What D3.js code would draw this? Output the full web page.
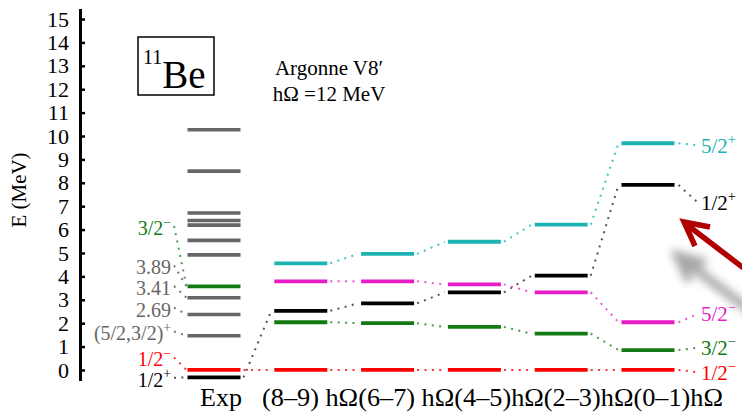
<!DOCTYPE html>
<html><head><meta charset="utf-8">
<script src="https://cdn.jsdelivr.net/npm/d3@7"></script>
<style>
body{margin:0;background:#fff;}
svg{display:block;}
svg text{font-family:"Liberation Serif","Tinos","Times New Roman",serif;}
</style></head><body>
<svg id="chart" width="742" height="418"></svg>
<script>
// Columns: experiment and the NCSM model spaces
const columns = ["Exp", "(8–9) hΩ", "(6–7) hΩ", "(4–5)hΩ", "(2–3)hΩ", "(0–1)hΩ"];
const yTicks = [0,1,2,3,4,5,6,7,8,9,10,11,12,13,14,15];

// Experimental levels of 11Be (MeV, relative to the 1/2− state)
const expGray = [10.27, 8.5, 6.71, 6.39, 6.19, 5.54, 4.92, 3.09, 2.37, 1.46];
const expGreen = 3.57;
const expRed = 0;
const expBlack = -0.32;

// Calculated levels, one value per model space (8–9 … 0–1)
const state52p = [4.56, 4.96, 5.48, 6.21, 9.69];
const state52m = [3.79, 3.79, 3.66, 3.32, 2.04];
const state12p = [2.53, 2.85, 3.32, 4.03, 7.91];
const state32m = [2.04, 2.00, 1.84, 1.55, 0.85];
const state12m = [0, 0, 0, 0, 0];

// Labels on the experimental column
const expLabelText  = ["3/2", "3.89", "3.41", "2.69", "(5/2,3/2)", "1/2", "1/2"];
const expLabelSup   = ["−", "", "", "", "+", "−", "+"];
const expLabelAt    = [6.07, 4.38, 3.50, 2.58, 1.56, 0.45, -0.42];
const expLabelLevel = [3.57, 3.57, 3.09, 2.37, 1.46, 0, -0.32];

// Labels at the right end of each calculated state
const rightText = ["5/2", "1/2", "5/2", "3/2", "1/2"];
const rightSup  = ["+", "+", "−", "−", "−"];
const rightAt   = [9.60, 7.15, 2.40, 0.95, -0.10];

const C = {cyan:"#1db3b3", magenta:"#e81cc6", black:"#000000", green:"#127a12", red:"#ff0000", gray:"#666666"};
const series = [
  {values: state52p, color: C.cyan,    dot: "#44c4c4"},
  {values: state12p, color: C.black,   dot: "#555555"},
  {values: state52m, color: C.magenta, dot: "#ee55d6"},
  {values: state32m, color: C.green,   dot: "#4a9a4a"},
  {values: state12m, color: C.red,     dot: "#ff3333"}
];
const expLabelColor = [C.green, C.gray, C.gray, C.gray, C.gray, C.red, C.black];
const expLabelDot   = ["#4a9a4a", "#777", "#777", "#777", "#777", "#ff3333", "#555"];

const svg = d3.select("#chart");
const y = d3.scaleLinear().domain([-0.45, 15.45]).range([380.5, 8.5]);
const x = d3.scalePoint().domain(columns).range([214, 648]);
const hw = 26.5;

function dotted(g, x1, y1, x2, y2, color) {
  g.append("line").attr("x1", x1).attr("y1", y1).attr("x2", x2).attr("y2", y2)
    .attr("stroke", color).attr("stroke-width", 2)
    .attr("stroke-dasharray", "2,5.4");
}
function supText(g, xp, yp, txt, sup, color, size, anchor) {
  const t = g.append("text").attr("x", xp).attr("y", yp).attr("dy", "0.35em")
    .attr("fill", color).attr("font-size", size).attr("text-anchor", anchor || "start");
  t.append("tspan").text(txt);
  if (sup) t.append("tspan").attr("dy", -size * 0.42).attr("font-size", size * 0.68).text(sup);
  return t;
}

// Y axis
const axis = svg.append("g").attr("transform", "translate(80,0)")
  .call(d3.axisLeft(y).tickValues(yTicks).tickSizeInner(-5).tickSizeOuter(0).tickPadding(11).tickFormat(d3.format("d")));
axis.attr("font-family", null);
axis.select(".domain").attr("stroke", "#000").attr("stroke-width", 3);
axis.selectAll(".tick line").attr("stroke", "#000").attr("stroke-width", 2.5);
axis.selectAll(".tick text").attr("font-size", 22).attr("fill", "#000");

svg.append("text").attr("transform", "translate(26,190) rotate(-90)")
  .attr("text-anchor", "middle").attr("font-size", 21).text("E (MeV)");

// Title box and interaction label
const tb = svg.append("g");
tb.append("rect").attr("x", 138).attr("y", 37).attr("width", 76).attr("height", 58)
  .attr("fill", "none").attr("stroke", "#000").attr("stroke-width", 1.5);
const tt = tb.append("text").attr("x", 143).attr("y", 88).attr("font-size", 39);
tt.append("tspan").attr("font-size", 20).attr("dy", -24).text("11");
tt.append("tspan").attr("dy", 24).text("Be");
svg.append("text").attr("x", 329).attr("y", 75).attr("text-anchor", "middle")
  .attr("font-size", 21).text("Argonne V8′");
svg.append("text").attr("x", 329).attr("y", 101).attr("text-anchor", "middle")
  .attr("font-size", 21).text("hΩ =12 MeV");

// Connectors between columns
const conn = svg.append("g");
const calcCols = columns.slice(1);
series.forEach(s => {
  for (let i = 0; i < s.values.length - 1; i++) {
    dotted(conn, x(calcCols[i]) + hw + 3, y(s.values[i]), x(calcCols[i + 1]) - hw - 3, y(s.values[i + 1]), s.dot);
  }
});
dotted(conn, x("Exp") + hw + 3, y(expRed), x(calcCols[0]) - hw - 3, y(state12m[0]), "#ff3333");
dotted(conn, x("Exp") + hw + 3, y(expBlack), x(calcCols[0]) - hw - 3, y(state12p[0]), "#555");

// Experimental levels
const lv = svg.append("g");
expGray.forEach(e => lv.append("line").attr("x1", x("Exp") - hw).attr("x2", x("Exp") + hw)
  .attr("y1", y(e)).attr("y2", y(e)).attr("stroke", C.gray).attr("stroke-width", 3.6));
[[expGreen, C.green], [expRed, C.red], [expBlack, C.black]].forEach(([e, c]) =>
  lv.append("line").attr("x1", x("Exp") - hw).attr("x2", x("Exp") + hw)
    .attr("y1", y(e)).attr("y2", y(e)).attr("stroke", c).attr("stroke-width", 3.8));

// Calculated levels
series.forEach(s => {
  s.values.forEach((v, i) => lv.append("line")
    .attr("x1", x(calcCols[i]) - hw).attr("x2", x(calcCols[i]) + hw)
    .attr("y1", y(v)).attr("y2", y(v)).attr("stroke", s.color).attr("stroke-width", 3.8));
});

// Labels on the experimental column with leaders
const el = svg.append("g");
expLabelText.forEach((t, i) => {
  supText(el, 171, y(expLabelAt[i]), t, expLabelSup[i], expLabelColor[i], 20, "end");
  dotted(el, 174, y(expLabelAt[i]) - 2, x("Exp") - hw - 1, y(expLabelLevel[i]), expLabelDot[i]);
});

// Labels on the right
const last = calcCols[calcCols.length - 1];
series.forEach((s, i) => {
  const v = s.values[s.values.length - 1];
  dotted(el, x(last) + hw + 4, y(v), 698, y(rightAt[i]), s.dot);
  supText(el, 701, y(rightAt[i]), rightText[i], rightSup[i], s.color, 21, "start");
});

// Column labels: experiment, then the model spaces set as one running line
svg.append("text").attr("x", 200).attr("y", 406).attr("font-size", 26).text(columns[0]);
const run = svg.append("text").attr("x", 262).attr("y", 406).attr("font-size", 26)
  .attr("textLength", 461).attr("lengthAdjust", "spacingAndGlyphs");
run.selectAll("tspan").data(calcCols).join("tspan").text(d => d);

// Annotation arrow with soft shadow
const defs = svg.append("defs");
defs.append("filter").attr("id", "soft").attr("x", "-50%").attr("y", "-50%").attr("width", "200%").attr("height", "200%")
  .append("feGaussianBlur").attr("stdDeviation", 4);
const sh = svg.append("g").attr("filter", "url(#soft)").attr("opacity", 0.75)
  .attr("stroke", "#8a8a8a").attr("stroke-width", 9).attr("fill", "none").attr("stroke-linecap", "round");
sh.append("path").attr("d", "M760,318 L678,256");
sh.append("path").attr("d", "M702,262 L678,256 L688,278");
const ar = svg.append("g").attr("stroke", "#b00000").attr("stroke-width", 5.5).attr("fill", "none")
  .attr("stroke-linejoin", "miter");
ar.append("path").attr("d", "M750,273 L686,224");
ar.append("path").attr("d", "M710,227 L684,222 L695,246");
</script>
</body></html>
